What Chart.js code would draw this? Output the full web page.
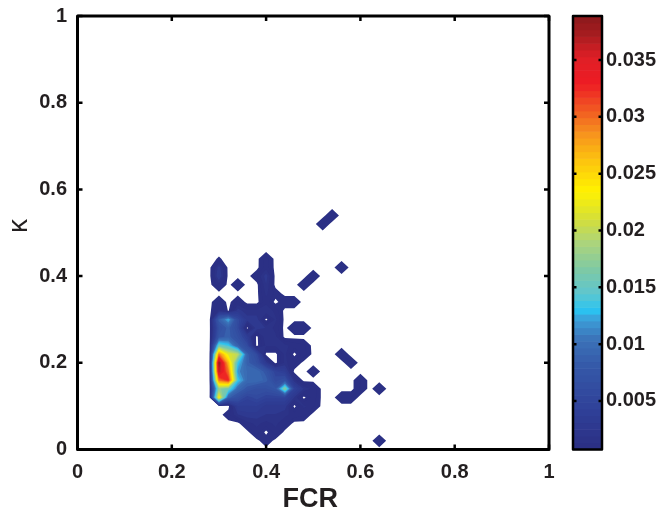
<!DOCTYPE html>
<html lang="en">
<head>
<meta charset="UTF-8">
<title>FCR - kappa density</title>
<script src="https://cdn.jsdelivr.net/npm/chart.js"></script>
<style>
  html, body { margin: 0; padding: 0; background: #fff; }
</style>
</head>
<body>
<canvas id="densityChart" width="660" height="519"></canvas>
<script>
// ---- density grid (values x 1e-3), rows from top (kappa = 0.56) down to 0 ----
const fcrGrid = [0.28, 0.30, 0.32, 0.34, 0.36, 0.38, 0.40, 0.42, 0.44, 0.46,
                 0.48, 0.50, 0.52, 0.54, 0.56, 0.58, 0.60, 0.62, 0.64, 0.66];
const kappaGrid = [0.56, 0.54, 0.52, 0.50, 0.48, 0.46, 0.44, 0.42, 0.40, 0.38,
                   0.36, 0.34, 0.32, 0.30, 0.28, 0.26, 0.24, 0.22, 0.20, 0.18,
                   0.16, 0.14, 0.12, 0.10, 0.08, 0.06, 0.04, 0.02, 0.00];
const densityE3 = [
//  .28  .30  .32  .34  .36  .38  .40  .42  .44  .46  .48  .50  .52  .54  .56  .58  .60  .62  .64  .66
  [ 0,   0,   0,   0,   0,   0,   0,   0,   0,   0,   0,   0,   0,   0,   0,   0,   0,   0,   0,   0 ], // .56
  [ 0,   0,   0,   0,   0,   0,   0,   0,   0,   0,   0,   0,   0,   1.1, 0,   0,   0,   0,   0,   0 ], // .54
  [ 0,   0,   0,   0,   0,   0,   0,   0,   0,   0,   0,   0,   1.1, 0,   0,   0,   0,   0,   0,   0 ], // .52
  [ 0,   0,   0,   0,   0,   0,   0,   0,   0,   0,   0,   0,   0,   0,   0,   0,   0,   0,   0,   0 ], // .50
  [ 0,   0,   0,   0,   0,   0,   0,   0,   0,   0,   0,   0,   0,   0,   0,   0,   0,   0,   0,   0 ], // .48
  [ 0,   0,   0,   0,   0,   0,   0,   0,   0,   0,   0,   0,   0,   0,   0,   0,   0,   0,   0,   0 ], // .46
  [ 0,   0.4, 0,   0,   0,   0,   1.4, 0,   0,   0,   0,   0,   0,   0,   0,   0,   0,   0,   0,   0 ], // .44
  [ 0,   3,   0,   0,   0,   0,   1.5, 0,   0,   0,   0,   0,   0,   0,   1.2, 0,   0,   0,   0,   0 ], // .42
  [ 0,   3.5, 0,   0,   0,   1.0, 3,   0,   0,   0,   0,   1.1, 0,   0,   0,   0,   0,   0,   0,   0 ], // .40
  [ 0,   1.5, 0,   1.3, 0,   0,   2.5, 0,   0,   0,   1.1, 0,   0,   0,   0,   0,   0,   0,   0,   0 ], // .38
  [ 0,   0,   0,   0,   0,   0,   2,   0.8, 0,   0,   0,   0,   0,   0,   0,   0,   0,   0,   0,   0 ], // .36
  [ 0,   1.2, 0,   1.2, 0,   0,   1.5, 0,   1.0, 1.0, 0,   0,   0,   0,   0,   0,   0,   0,   0,   0 ], // .34
  [ 0,   2,   0.2, 3,   2,   2,   2.5, 1.5, 0,   0,   0,   0,   0,   0,   0,   0,   0,   0,   0,   0 ], // .32
  [ 0,   9,   13,  6,   3,   3,   0,   2,   0,   0,   0,   0,   0,   0,   0,   0,   0,   0,   0,   0 ], // .30
  [ 0,   7,   9,   6,   0,   3,   2.5, 1.5, 0,   1.5, 1.5, 0,   0,   0,   0,   0,   0,   0,   0,   0 ], // .28
  [ 0,   8,   9,   7,   4,   0,   2.5, 2,   0,   0,   0,   0,   0,   0,   0,   0,   0,   0,   0,   0 ], // .26
  [ 0,   16,  14,  9,   6,   0,   2,   2,   2,   1.5, 1.2, 0,   0,   0,   0,   0,   0,   0,   0,   0 ], // .24
  [ 0,   30,  22,  20,  9,   6,   0,   0,   2,   0,   1.5, 0,   0,   0,   1.1, 0,   0,   0,   0,   0 ], // .22
  [ 0,   38.9,27,  14,  9,   7,   3,   0,   2,   1.2, 0,   0,   0,   0,   0,   1.1, 0,   0,   0,   0 ], // .20
  [ 0,   37,  30,  12,  10,  10,  8,   5,   4,   0,   0,   1.1, 0,   0,   0,   0,   0,   0,   0,   0 ], // .18
  [ 0,   30,  33,  14,  10,  10,  9,   6,   7,   2,   0,   0,   0,   0,   0,   0,   1.1, 0,   0,   0 ], // .16
  [ 0,   18,  16,  10,  8,   7,   7,   8,   18,  5,   2.5, 1.5, 0,   0,   0,   0,   1.1, 0,   1.2, 0 ], // .14
  [ 0,   24,  9,   7,   5,   6,   5,   5,   5,   2.5, 0,   1.5, 0,   0,   1.1, 1.1, 0,   0,   0,   0 ], // .12
  [ 0,   0,   0,   4,   4,   4,   3,   3,   3,   0,   2,   1.2, 0,   0,   0,   0,   0,   0,   0,   0 ], // .10
  [ 0,   0,   0.8, 2.5, 3,   3,   2.5, 2.5, 2,   1.5, 1.2, 0,   0,   0,   0,   0,   0,   0,   0,   0 ], // .08
  [ 0,   0,   0,   0,   1.5, 2,   1.5, 2,   1.2, 0,   0,   0,   0,   0,   0,   0,   0,   0,   0,   0 ], // .06
  [ 0,   0,   0,   0,   0,   1.5, 0,   1.5, 0,   0,   0,   0,   0,   0,   0,   0,   0,   0,   0,   0 ], // .04
  [ 0,   0,   0,   0,   0,   0,   1.0, 0,   0,   0,   0,   0,   0,   0,   0,   0,   0,   0,   1.1, 0 ], // .02
  [ 0,   0,   0,   0,   0,   0,   0,   0,   0,   0,   0,   0,   0,   0,   0,   0,   0,   0,   0,   0 ]  // .00
];

const axisTicks = [0, 0.2, 0.4, 0.6, 0.8, 1];
const cbarTicks = [0.005, 0.01, 0.015, 0.02, 0.025, 0.03, 0.035];
const cbarMin = 0.00073;
const cbarMax = 0.03887;

// contour levels: first level, then even spacing
const firstLevel = 0.0003;
const levelStep = 0.00075;

// colormap (value x 1e-3 -> colour), sampled into 64 bands
const cmapValues = [0.73, 4.0, 8.0, 10.5, 12.2, 13.0, 14.5, 16.5, 19.0, 21.0, 23.5, 26.0, 28.5, 30.6, 33.0, 35.2, 37.4, 38.87];
const cmapColors = ['#2b2e83', '#2f3f97', '#3558a8', '#3b73b9', '#3c9ed8', '#2ac4f2', '#5ec6cf', '#7dc9a6', '#add47a',
                    '#d4df3a', '#fff200', '#fdc70e', '#f7941d', '#f15a22', '#ed1c24', '#e01f26', '#a31c1f', '#8b1a1c'];
const nBands = 64;

const tickFont = '"Liberation Sans", Arial, sans-serif';
const inkColor = '#231f20';

function hexRgb(h) {
  return [parseInt(h.slice(1, 3), 16), parseInt(h.slice(3, 5), 16), parseInt(h.slice(5, 7), 16)];
}

function cmapAt(vE3) {
  if (vE3 <= cmapValues[0]) return hexRgb(cmapColors[0]);
  for (let i = 1; i < cmapValues.length; i++) {
    if (vE3 <= cmapValues[i]) {
      const t = (vE3 - cmapValues[i - 1]) / (cmapValues[i] - cmapValues[i - 1]);
      const a = hexRgb(cmapColors[i - 1]), b = hexRgb(cmapColors[i]);
      return a.map((c, k) => Math.round(c + t * (b[k] - c)));
    }
  }
  return hexRgb(cmapColors[cmapColors.length - 1]);
}

// colour of band containing value v (real units)
function bandColor(v) {
  let t = (v - cbarMin) / (cbarMax - cbarMin);
  t = Math.min(1, Math.max(0, t));
  const b = Math.min(nBands - 1, Math.floor(t * nBands));
  const mid = cbarMin + (b + 0.5) / nBands * (cbarMax - cbarMin);
  const c = cmapAt(mid * 1000);
  return `rgb(${c[0]},${c[1]},${c[2]})`;
}

// filled contours, one path per level (marching squares per cell)
function drawContours(chart) {
  const {ctx, chartArea, scales: {x, y}} = chart;
  const z = densityE3.map(row => row.map(v => v / 1000));
  let zMax = 0;
  z.forEach(row => row.forEach(v => { zMax = Math.max(zMax, v); }));
  const levels = [];
  for (let L = firstLevel; L < zMax; L += levelStep) levels.push(L);

  ctx.save();
  ctx.beginPath();
  ctx.rect(chartArea.left, chartArea.top, chartArea.right - chartArea.left, chartArea.bottom - chartArea.top);
  ctx.clip();
  levels.forEach(L => {
    const path = new Path2D();
    for (let r = 0; r < kappaGrid.length - 1; r++) {
      for (let c = 0; c < fcrGrid.length - 1; c++) {
        const corners = [[c, r + 1], [c + 1, r + 1], [c + 1, r], [c, r]];
        const pts = [];
        for (let i = 0; i < 4; i++) {
          const [ca, ra] = corners[i];
          const [cb, rb] = corners[(i + 1) % 4];
          const za = z[ra][ca], zb = z[rb][cb];
          if (za >= L) pts.push([fcrGrid[ca], kappaGrid[ra]]);
          if ((za >= L) !== (zb >= L)) {
            const t = (L - za) / (zb - za);
            pts.push([fcrGrid[ca] + t * (fcrGrid[cb] - fcrGrid[ca]),
                      kappaGrid[ra] + t * (kappaGrid[rb] - kappaGrid[ra])]);
          }
        }
        if (pts.length < 3) continue;
        pts.forEach(([fx, ky], i) => {
          const px = x.getPixelForValue(fx), py = y.getPixelForValue(ky);
          if (i === 0) path.moveTo(px, py); else path.lineTo(px, py);
        });
        path.closePath();
      }
    }
    ctx.fillStyle = bandColor(L);
    ctx.fill(path, 'nonzero');
  });
  ctx.restore();
}

// axes box with inward ticks, axis titles, colorbar
function drawFrame(chart) {
  const {ctx, chartArea: a, scales: {x, y, cb}} = chart;
  ctx.save();
  ctx.strokeStyle = '#000';
  ctx.lineCap = 'butt';

  // ticks on all four sides, pointing inside
  ctx.lineWidth = 2.5;
  const tl = 5;
  ctx.beginPath();
  axisTicks.forEach(v => {
    const px = x.getPixelForValue(v);
    ctx.moveTo(px, a.bottom); ctx.lineTo(px, a.bottom - tl);
    ctx.moveTo(px, a.top); ctx.lineTo(px, a.top + tl);
    const py = y.getPixelForValue(v);
    ctx.moveTo(a.left, py); ctx.lineTo(a.left + tl, py);
    ctx.moveTo(a.right, py); ctx.lineTo(a.right - tl, py);
  });
  ctx.stroke();

  ctx.lineWidth = 3;
  ctx.lineJoin = 'round';
  ctx.strokeRect(a.left, a.top, a.right - a.left, a.bottom - a.top);

  // colorbar
  const cbL = a.right + 24, cbW = 29;
  for (let b = 0; b < nBands; b++) {
    const v0 = cbarMin + b / nBands * (cbarMax - cbarMin);
    const v1 = cbarMin + (b + 1) / nBands * (cbarMax - cbarMin);
    const y0 = cb.getPixelForValue(v1), y1 = cb.getPixelForValue(v0);
    ctx.fillStyle = bandColor((v0 + v1) / 2);
    ctx.fillRect(cbL, y0, cbW, y1 - y0 + 0.6);
  }
  ctx.lineWidth = 2.5;
  ctx.beginPath();
  cbarTicks.forEach(v => {
    const py = cb.getPixelForValue(v);
    ctx.moveTo(cbL, py); ctx.lineTo(cbL + 3.5, py);
    ctx.moveTo(cbL + cbW, py); ctx.lineTo(cbL + cbW - 3.5, py);
  });
  ctx.stroke();
  ctx.strokeRect(cbL, a.top, cbW, a.bottom - a.top);

  // axis titles
  ctx.fillStyle = inkColor;
  ctx.textAlign = 'center';
  ctx.textBaseline = 'middle';
  ctx.font = 'bold 27px ' + tickFont;
  ctx.fillText('FCR', (a.left + a.right) / 2 - 3, 500);
  ctx.translate(19, 226);
  ctx.rotate(-Math.PI / 2);
  ctx.font = '28px ' + tickFont;
  ctx.fillText('\u03BA', 0, 0);
  ctx.restore();
}

const framePlugin = {
  id: 'densityFrame',
  beforeDatasetsDraw: chart => drawContours(chart),
  afterDraw: chart => drawFrame(chart)
};

const labelFont = {family: tickFont, size: 20, weight: 'bold'};
const fixTicks = list => scale => { scale.ticks = list.map(v => ({value: v})); };
// fixed box sizes; drop the label overhang padding so the plot area stays put
const fixSize = (w, h) => scale => {
  if (w !== null) scale.width = w;
  if (h !== null) scale.height = h;
  scale.paddingTop = 0; scale.paddingBottom = 0;
  scale.paddingLeft = 0; scale.paddingRight = 0;
};
const noGrid = {display: false, drawTicks: false};

new Chart(document.getElementById('densityChart'), {
  type: 'scatter',
  data: {datasets: []},
  options: {
    responsive: false,
    animation: false,
    devicePixelRatio: 1,
    layout: {padding: {top: 16, left: 0, right: 0, bottom: 0}},
    plugins: {legend: {display: false}, tooltip: {enabled: false}},
    scales: {
      x: {
        type: 'linear', position: 'bottom', min: 0, max: 1,
        afterBuildTicks: fixTicks(axisTicks),
        afterFit: fixSize(null, 69.5),
        grid: noGrid, border: {display: false},
        ticks: {padding: 11, font: labelFont, color: inkColor, maxRotation: 0, autoSkip: false,
                callback: v => String(v)}
      },
      y: {
        type: 'linear', position: 'left', min: 0, max: 1,
        afterBuildTicks: fixTicks(axisTicks),
        afterFit: fixSize(77.5, null),
        grid: noGrid, border: {display: false},
        ticks: {padding: 10.5, font: labelFont, color: inkColor, autoSkip: false,
                callback: v => String(v)}
      },
      cb: {
        type: 'linear', position: 'right', min: cbarMin, max: cbarMax,
        afterBuildTicks: fixTicks(cbarTicks),
        afterFit: fixSize(111, null),
        grid: noGrid, border: {display: false},
        ticks: {padding: 57, font: labelFont, color: inkColor, autoSkip: false,
                callback: v => String(v)}
      }
    }
  },
  plugins: [framePlugin]
});
</script>
</body>
</html>
